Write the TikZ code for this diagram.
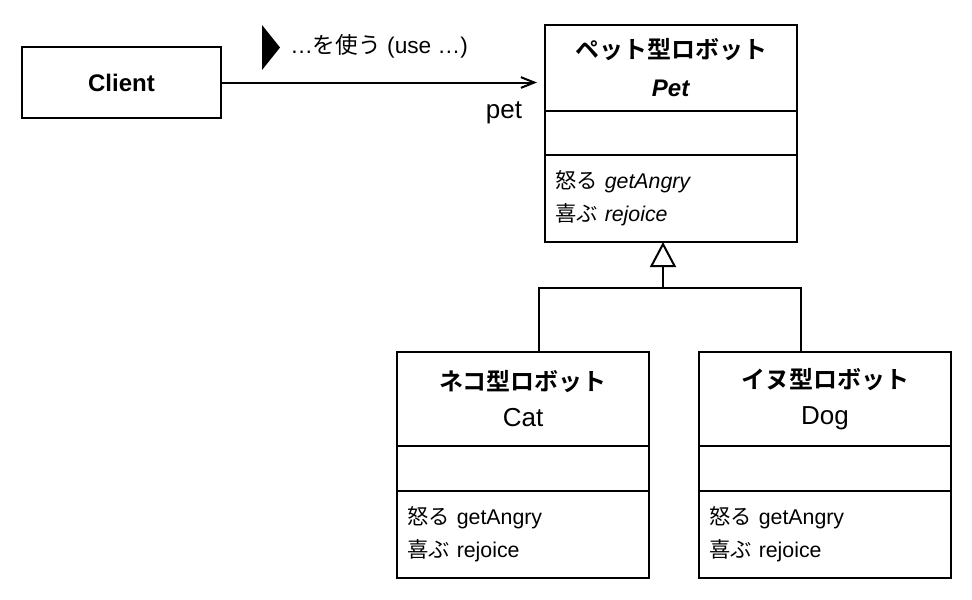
\documentclass[tikz,border=0pt]{standalone}
\usepackage{fontspec}
\setmainfont{Liberation Sans}
\newfontfamily\jpfont{Noto Sans CJK JP}[BoldFont={Noto Sans CJK JP Bold}]
\usetikzlibrary{arrows.meta, positioning}
\newcommand{\ja}[1]{{\jpfont #1}}
\tikzset{
  clsname/.style={
    rectangle, draw, line width=1.5pt, outer sep=0pt,
    minimum width=189pt, minimum height=64.5pt,
    text centered, align=center,
    font=\fontsize{18}{28.5}\selectfont\bfseries},
  clsattr/.style={
    rectangle, draw, line width=1.5pt, outer sep=0pt,
    minimum width=189pt, minimum height=33pt},
  clsops/.style={
    rectangle, draw, line width=1.5pt, outer sep=0pt,
    text width=174pt, inner xsep=7.5pt, minimum height=65.25pt,
    align=left, font=\fontsize{16}{24.75}\selectfont},
  actor/.style={
    rectangle, draw, line width=1.5pt, outer sep=0pt,
    minimum width=149.25pt, minimum height=53.25pt,
    font=\fontsize{18}{22}\selectfont\bfseries},
  lbl/.style={inner sep=0pt, font=\fontsize{17}{20}\selectfont},
  usearr/.style={-{Straight Barb[length=10pt,width=8pt,line width=1.5pt]}, line width=1.5pt},
  inherit/.style={-{Triangle[open, fill=white, length=18.75pt, width=19.5pt, line width=1.5pt]}, line width=1.5pt},
  link/.style={line width=1.5pt},
}
\begin{document}
\begin{tikzpicture}[x=0.75pt, y=-0.75pt]
  \useasboundingbox (0,0) rectangle (972,600);

  % client
  \node[actor] (client) at (121.5,82.5) {Client};

  % Pet
  \node[clsname] (petname) at (671,68) {\ja{ペット型ロボット}\\\textit{Pet}};
  \node[clsattr, below=0pt of petname] (petattr) {};
  \node[clsops, below=0pt of petattr] (petops)
    {\ja{怒る} \textit{getAngry}\\\ja{喜ぶ} \textit{rejoice}};

  % Cat
  \node[clsname, minimum height=70.5pt, font=\fontsize{18}{27}\selectfont\bfseries] (catname) at (523,399)
    {\ja{ネコ型ロボット}\\{\mdseries\fontsize{19.5}{27}\selectfont Cat}};
  \node[clsattr, below=0pt of catname, minimum height=33.75pt] (catattr) {};
  \node[clsops, below=0pt of catattr] (catops)
    {\ja{怒る} getAngry\\\ja{喜ぶ} rejoice};

  % Dog
  \node[clsname, minimum height=70.5pt, font=\fontsize{18}{27}\selectfont\bfseries] (dogname) at (825,399)
    {\ja{イヌ型ロボット}\\{\mdseries\fontsize{19.5}{27}\selectfont Dog}};
  \node[clsattr, below=0pt of dogname, minimum height=33.75pt] (dogattr) {};
  \node[clsops, below=0pt of dogattr] (dogops)
    {\ja{怒る} getAngry\\\ja{喜ぶ} rejoice};

  % uses
  \draw[usearr, shorten >=6pt] (client.east) -- (client.east -| petname.west);
  \node[lbl, anchor=west] (uselbl) at (290,46) {…\ja{を使う} (use …)};
  \fill (262,25) -- (280,47.5) -- (262,70) -- cycle;
  \node[lbl, font=\fontsize{19.5}{22}\selectfont] (petlbl) at (504,113) {pet};

  % inheritance
  \coordinate (hub) at ([xshift=-6pt, yshift=-34.5pt]petops.south);
  \draw[link] ([xshift=12pt]catname.north) |- (hub) -| ([xshift=-18pt]dogname.north);
  \draw[inherit] (hub) -- (hub |- petops.south);
\end{tikzpicture}
\end{document}
